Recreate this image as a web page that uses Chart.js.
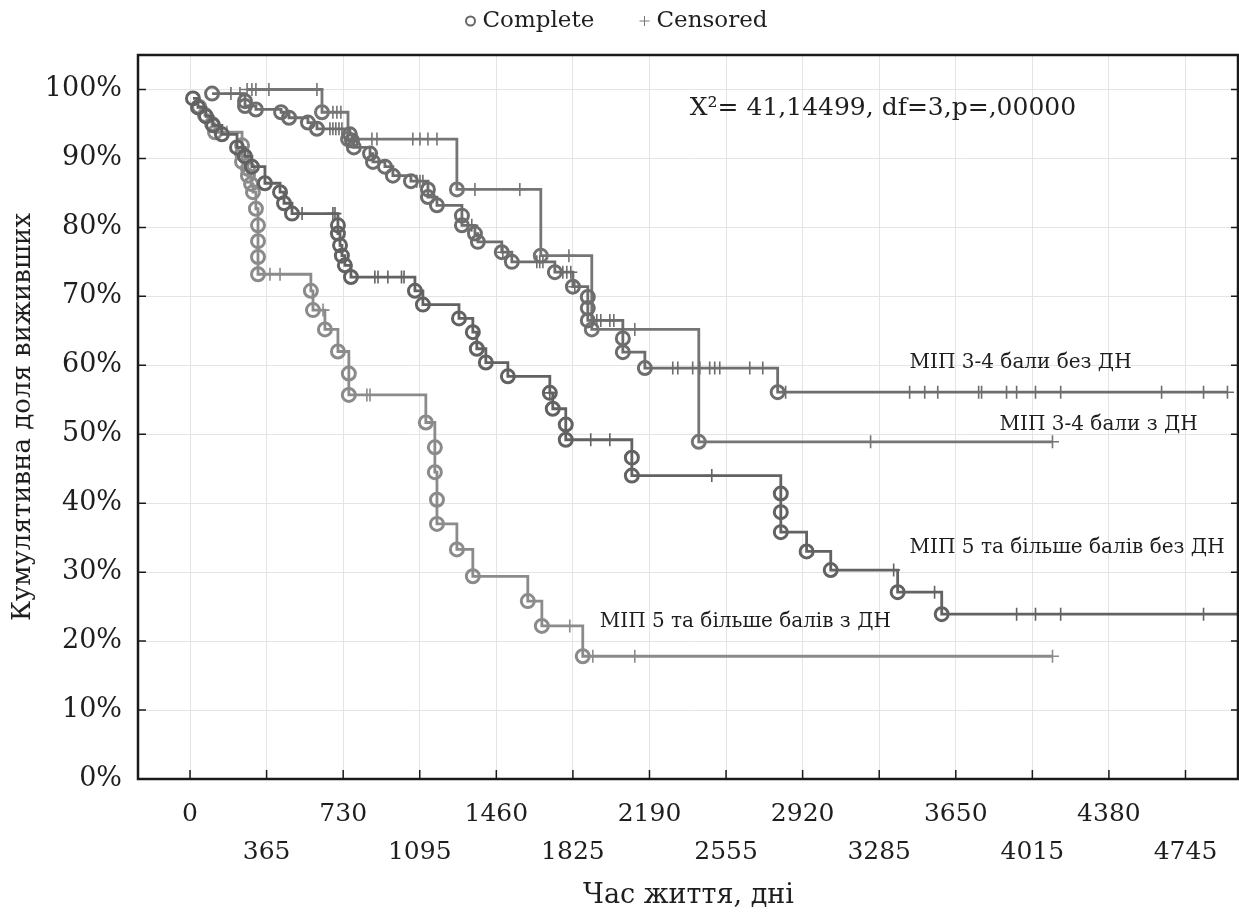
<!DOCTYPE html>
<html>
<head>
<meta charset="utf-8">
<script src="https://cdn.jsdelivr.net/npm/chart.js@4.4.0/dist/chart.umd.min.js"></script>
<style>
  body { margin: 0; background: #fff; }
</style>
</head>
<body>
<canvas id="km" width="1239" height="917"></canvas>
<script>
var seriesNames = ['МІП 3-4 бали без ДН', 'МІП 3-4 бали з ДН', 'МІП 5 та більше балів без ДН', 'МІП 5 та більше балів з ДН'];
var xTicks = [0, 365, 730, 1095, 1460, 1825, 2190, 2555, 2920, 3285, 3650, 4015, 4380, 4745];
var yTicks = [0, 10, 20, 30, 40, 50, 60, 70, 80, 90, 100];

// МІП 3-4 бали без ДН
var aStart = [105, 99.4];
var aEventDays = [105, 262, 262, 314, 434, 472, 562, 605, 762, 772, 781, 858, 872, 929, 967, 1053, 1134, 1134, 1177, 1296, 1296, 1358, 1372, 1486, 1534, 1739, 1825, 1896, 1896, 1896, 2063, 2063, 2168, 2801];
var aEventPct  = [99.4, 98.3, 97.6, 97.1, 96.7, 95.9, 95.2, 94.3, 93.5, 92.6, 91.6, 90.7, 89.5, 88.8, 87.5, 86.7, 85.5, 84.4, 83.2, 81.7, 80.3, 79.1, 77.9, 76.4, 75.0, 73.5, 71.4, 69.9, 68.3, 66.5, 63.9, 61.9, 59.6, 56.1];
var aCensorDays = [195, 238, 667, 681, 695, 710, 724, 1081, 1096, 1110, 1343, 1491, 1653, 1667, 1682, 1777, 1796, 1815, 1834, 1939, 1958, 2001, 2020, 2301, 2325, 2396, 2430, 2477, 2501, 2525, 2668, 2730, 2839, 3430, 3502, 3564, 3759, 3773, 3892, 3940, 4030, 4150, 4631, 4831, 4945];
var aEnd = 4945;

// МІП 3-4 бали з ДН
var bStart = [272, 100];
var bEventDays = [629, 753, 1272, 1672, 1915, 2425];
var bEventPct  = [96.7, 92.8, 85.5, 75.9, 65.2, 48.9];
var bCensorDays = [272, 295, 314, 376, 605, 681, 700, 719, 867, 891, 1062, 1096, 1134, 1177, 1358, 1572, 1806, 2120, 3244, 4111];
var bEnd = 4111;

// МІП 5 та більше балів без ДН
var cStart = [14, 98.7];
var cEventDays = [14, 38, 76, 110, 152, 224, 262, 295, 357, 429, 448, 486, 705, 705, 715, 724, 738, 767, 1072, 1110, 1282, 1348, 1367, 1410, 1515, 1715, 1729, 1791, 1791, 2106, 2106, 2816, 2816, 2816, 2939, 3054, 3373, 3583];
var cEventPct  = [98.7, 97.4, 96.1, 94.8, 93.5, 91.6, 90.3, 88.8, 86.4, 85.1, 83.5, 82.0, 80.3, 79.1, 77.4, 75.9, 74.5, 72.8, 70.8, 68.8, 66.8, 64.8, 62.4, 60.4, 58.4, 56.0, 53.7, 51.4, 49.2, 46.6, 44.0, 41.4, 38.7, 35.8, 33.0, 30.3, 27.1, 23.9];
var cCensorDays = [534, 681, 691, 881, 896, 943, 1008, 1020, 1715, 1910, 2001, 2487, 3354, 3549, 3940, 4030, 4150, 4831];
var cEnd = 5000;

// МІП 5 та більше балів з ДН
var dStart = [43, 97.5];
var dEventDays = [43, 71, 105, 119, 248, 248, 248, 276, 276, 291, 300, 314, 324, 324, 324, 324, 576, 586, 643, 705, 757, 757, 1124, 1167, 1167, 1177, 1177, 1272, 1348, 1610, 1677, 1872];
var dEventPct  = [97.5, 96.3, 95.0, 93.8, 91.9, 90.7, 89.5, 88.5, 87.5, 86.3, 85.1, 82.7, 80.3, 78.0, 75.7, 73.2, 70.8, 68.0, 65.2, 62.0, 58.8, 55.7, 51.7, 48.1, 44.5, 40.5, 37.0, 33.3, 29.4, 25.8, 22.2, 17.8];
var dCensorDays = [176, 381, 429, 634, 843, 858, 1810, 1920, 2120, 4111];
var dEnd = 4111;

var lineColors = ['#6d6d6d', '#757575', '#626262', '#8b8b8b'];
var serifFont = "'DejaVu Serif', serif";
var textColor = '#1e1e1e';

function survivalAt(start, days, pct, d) {
    var s = start[1];
    for (var i = 0; i < days.length; i++) {
        if (days[i] <= d) s = pct[i];
    }
    return s;
}

function kmDatasets(name, color, start, days, pct, censored, end) {
    var path = [{x: start[0], y: start[1]}];
    for (var i = 0; i < days.length; i++) path.push({x: days[i], y: pct[i]});
    path.push({x: end, y: pct[pct.length - 1]});

    var events = days.map(function (d, i) { return {x: d, y: pct[i]}; });
    var cens = censored.map(function (d) { return {x: d, y: survivalAt(start, days, pct, d)}; });

    return [{
        label: name,
        data: path,
        showLine: true,
        stepped: true,
        borderColor: color,
        borderWidth: 2.8,
        pointRadius: 0,
        fill: false
    }, {
        label: name + ' complete',
        data: events,
        showLine: false,
        pointStyle: 'circle',
        pointRadius: 6.5,
        borderWidth: 3,
        borderColor: color,
        backgroundColor: 'rgba(0,0,0,0)'
    }, {
        label: name + ' censored',
        data: cens,
        showLine: false,
        pointStyle: 'cross',
        pointRadius: 6.5,
        borderWidth: 1.6,
        borderColor: color
    }];
}

var datasets = []
    .concat(kmDatasets(seriesNames[0], lineColors[0], aStart, aEventDays, aEventPct, aCensorDays, aEnd))
    .concat(kmDatasets(seriesNames[1], lineColors[1], bStart, bEventDays, bEventPct, bCensorDays, bEnd))
    .concat(kmDatasets(seriesNames[2], lineColors[2], cStart, cEventDays, cEventPct, cCensorDays, cEnd))
    .concat(kmDatasets(seriesNames[3], lineColors[3], dStart, dEventDays, dEventPct, dCensorDays, dEnd));

var notes = [
    {text: 'Χ²= 41,14499, df=3,p=,00000', day: 2382, pct: 97.2, size: 25},
    {text: seriesNames[0], day: 3430, pct: 60.4, size: 20},
    {text: seriesNames[1], day: 3859, pct: 51.4, size: 20},
    {text: seriesNames[2], day: 3430, pct: 33.5, size: 20},
    {text: seriesNames[3], day: 1953, pct: 22.8, size: 20}
];

var framePlugin = {
    id: 'frame',
    afterDraw: function (chart) {
        var ctx = chart.ctx, a = chart.chartArea;
        var xs = chart.scales.x, ys = chart.scales.y;
        ctx.save();
        ctx.strokeStyle = '#1a1a1a';
        ctx.lineWidth = 2.5;
        ctx.strokeRect(a.left, a.top, a.right - a.left - 1, a.bottom - a.top);
        ctx.lineWidth = 1.5;
        ctx.beginPath();
        xTicks.forEach(function (v) {
            var px = xs.getPixelForValue(v);
            ctx.moveTo(px, a.bottom);
            ctx.lineTo(px, a.bottom - 9);
        });
        yTicks.forEach(function (v) {
            var py = ys.getPixelForValue(v);
            ctx.moveTo(a.left, py);
            ctx.lineTo(a.left + 8, py);
            ctx.moveTo(a.right, py);
            ctx.lineTo(a.right - 8, py);
        });
        ctx.stroke();

        // notes
        ctx.fillStyle = textColor;
        ctx.textBaseline = 'middle';
        ctx.textAlign = 'left';
        notes.forEach(function (n) {
            ctx.font = n.size + 'px ' + serifFont;
            ctx.fillText(n.text, xs.getPixelForValue(n.day), ys.getPixelForValue(n.pct));
        });

        // legend
        var cx = chart.width / 2;
        ctx.font = '23px ' + serifFont;
        ctx.strokeStyle = '#666';
        ctx.lineWidth = 2;
        ctx.beginPath();
        ctx.arc(cx - 149, 21, 4.5, 0, Math.PI * 2);
        ctx.stroke();
        ctx.fillText('Complete', cx - 137, 21);
        ctx.strokeStyle = '#777';
        ctx.lineWidth = 1;
        ctx.beginPath();
        ctx.moveTo(cx + 20, 21); ctx.lineTo(cx + 30, 21);
        ctx.moveTo(cx + 25, 16); ctx.lineTo(cx + 25, 26);
        ctx.stroke();
        ctx.fillText('Censored', cx + 37, 21);
        ctx.restore();
    }
};

new Chart(document.getElementById('km'), {
    type: 'scatter',
    data: { datasets: datasets },
    options: {
        responsive: false,
        animation: false,
        events: [],
        layout: { autoPadding: false, padding: { top: 55, right: 0, left: 0, bottom: 0 } },
        plugins: {
            legend: { display: false },
            tooltip: { enabled: false }
        },
        scales: {
            x: {
                type: 'linear',
                min: -248,
                max: 5000,
                afterBuildTicks: function (scale) {
                    scale.ticks = xTicks.map(function (v) { return {value: v}; });
                },
                afterFit: function (scale) { scale.height = 138; },
                grid: { color: '#e4e4e4', lineWidth: 1, drawTicks: false },
                border: { display: false },
                ticks: {
                    autoSkip: false,
                    maxRotation: 0,
                    padding: 17,
                    color: textColor,
                    font: { family: serifFont, size: 25, lineHeight: 1.5 },
                    callback: function (v, i) {
                        return i % 2 === 0 ? String(v) : ['', String(v)];
                    }
                },
                title: {
                    display: true,
                    text: 'Час життя, дні',
                    color: textColor,
                    font: { family: serifFont, size: 27 },
                    padding: { top: 0, bottom: 5 }
                }
            },
            y: {
                min: 0,
                max: 105,
                afterBuildTicks: function (scale) {
                    scale.ticks = yTicks.map(function (v) { return {value: v}; });
                },
                afterFit: function (scale) { scale.width = 138; },
                grid: { color: '#e4e4e4', lineWidth: 1, drawTicks: false },
                border: { display: false },
                ticks: {
                    padding: 16,
                    color: textColor,
                    font: { family: serifFont, size: 27 },
                    callback: function (v) { return v + '%'; }
                },
                title: {
                    display: true,
                    text: 'Кумулятивна доля виживших',
                    color: textColor,
                    font: { family: serifFont, size: 26 },
                    padding: { top: 8, bottom: 0 }
                }
            }
        }
    },
    plugins: [framePlugin]
});
</script>
</body>
</html>
